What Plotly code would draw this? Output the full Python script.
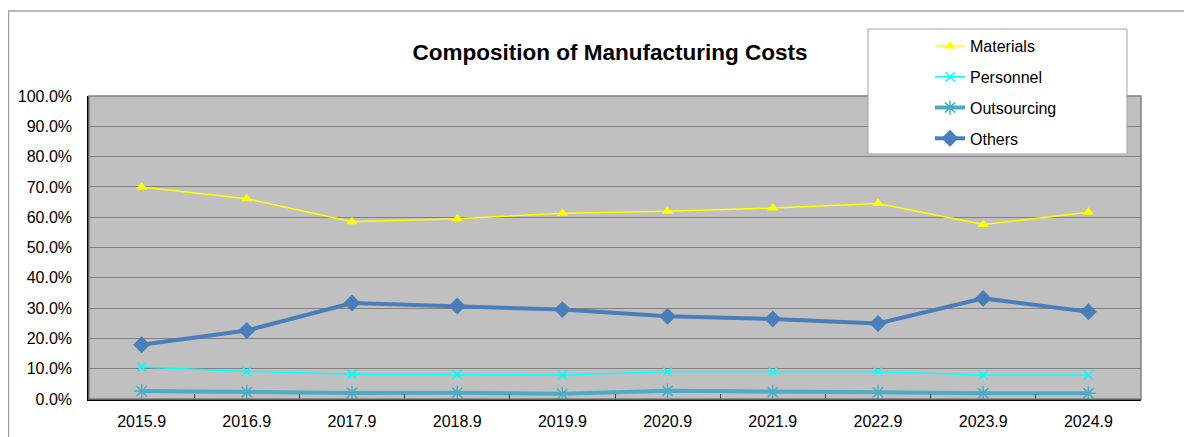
import plotly.graph_objects as go

YEARS = ['2015.9', '2016.9', '2017.9', '2018.9', '2019.9',
         '2020.9', '2021.9', '2022.9', '2023.9', '2024.9']

MATERIALS = [0.700, 0.661, 0.585, 0.595, 0.613, 0.620, 0.630, 0.645, 0.576, 0.616]
PERSONNEL = [0.106, 0.091, 0.082, 0.081, 0.079, 0.090, 0.090, 0.090, 0.079, 0.079]
OUTSOURCING = [0.026, 0.023, 0.020, 0.021, 0.017, 0.027, 0.023, 0.022, 0.019, 0.019]
OTHERS = [0.179, 0.226, 0.317, 0.307, 0.295, 0.273, 0.264, 0.249, 0.332, 0.288]

FONT = 'Liberation Sans'

# page body has an 8px margin, so the figure is drawn at (8, 8)
W, H = 1184, 429

fig = go.Figure()

fig.add_trace(go.Scatter(
    x=YEARS, y=MATERIALS, name='Materials', mode='lines+markers',
    line=dict(color='#FFFF00', width=1.5),
    marker=dict(symbol='triangle-up', size=10, color='#FFFF00'),
    legendgroup='a'
))
fig.add_trace(go.Scatter(
    x=YEARS, y=PERSONNEL, name='Personnel', mode='lines+markers',
    line=dict(color='#00FFFF', width=1.5),
    marker=dict(symbol='x-thin', size=9, line=dict(color='#00FFFF', width=1.5)),
    legendgroup='b'
))
fig.add_trace(go.Scatter(
    x=YEARS, y=OUTSOURCING, name='Outsourcing', mode='lines+markers',
    line=dict(color='#4BACC6', width=4),
    marker=dict(symbol='asterisk-open', size=12, line=dict(color='#4BACC6', width=1.5)),
    legendgroup='c'
))
fig.add_trace(go.Scatter(
    x=YEARS, y=OTHERS, name='Others', mode='lines+markers',
    line=dict(color='#4A7EBB', width=4),
    marker=dict(symbol='diamond', size=13, color='#4A7EBB'),
    legendgroup='d'
))

fig.update_layout(
    width=W, height=H,
    margin=dict(l=81, r=51, t=88, b=38, autoexpand=False),
    paper_bgcolor='white',
    plot_bgcolor='#C0C0C0',
    font=dict(family=FONT, size=16, color='black'),
    title=dict(text='<b>Composition of Manufacturing Costs</b>',
               x=(610 - 8) / W, xanchor='center',
               y=1 - (52 - 8) / H, yanchor='middle',
               font=dict(family=FONT, size=22.5, color='black')),
    legend=dict(x=(930 - 89) / 1052, xanchor='left',
                y=(399 - 29) / 303, yanchor='top',
                bgcolor='rgba(0,0,0,0)', borderwidth=0,
                tracegroupgap=7,
                font=dict(family=FONT, size=16, color='black')),
    shapes=[
        # outer chart border
        dict(type='rect', xref='paper', yref='paper',
             x0=(0.5 - 81) / 1052, x1=1.2, y0=-0.3, y1=(399 - 11) / 303,
             line=dict(color='#A0A0A0', width=1.5), layer='below'),
        # plot-area frame
        dict(type='rect', xref='paper', yref='paper', x0=0, x1=1, y0=0, y1=1,
             line=dict(color='#808080', width=1.5), layer='above'),
        # legend box
        dict(type='rect', xref='paper', yref='paper',
             x0=(868 - 89) / 1052, x1=(1127 - 89) / 1052,
             y0=(399 - 154) / 303, y1=(399 - 29) / 303,
             fillcolor='white', line=dict(color='#A0A0A0', width=1), layer='above'),
    ],
)

fig.update_xaxes(
    type='category', range=[-0.5, len(YEARS) - 0.5], showgrid=False,
    automargin=False,
    showline=True, linecolor='black', linewidth=1.5,
    ticks='inside', tickson='boundaries', ticklen=5, tickcolor='#404040',
    ticklabelstandoff=7,
    tickfont=dict(family=FONT, size=16, color='black'),
)
fig.update_yaxes(
    range=[0, 1], dtick=0.1, tickformat='.1%', automargin=False,
    showgrid=True, gridcolor='#808080', gridwidth=1,
    showline=True, linecolor='black', linewidth=1.5,
    zeroline=False, ticks='', ticklabelstandoff=12,
    tickfont=dict(family=FONT, size=16, color='black'),
)

fig.write_html('out.html')
